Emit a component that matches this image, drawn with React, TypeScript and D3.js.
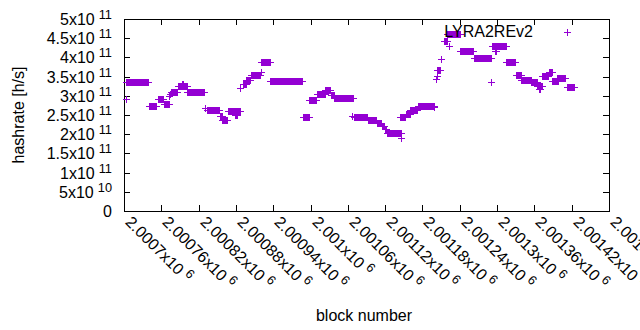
import React from "react";
import * as d3 from "d3";

// Runs of blocks with a constant hashrate value (start block, end block, value in h/s)
const runStart = [
  2000703, 2000704, 2000741, 2000755, 2000764, 2000773, 2000774, 2000776, 2000787, 2000793,
  2000802, 2000830, 2000833, 2000854, 2000858, 2000868, 2000879, 2000886, 2000891, 2000897,
  2000905, 2000921, 2000920, 2000935, 2000988, 2000998, 2001010, 2001024, 2001033, 2001038,
  2001066, 2001070, 2001092, 2001107, 2001115, 2001119, 2001123, 2001146, 2001144, 2001153,
  2001160, 2001173, 2001199, 2001202, 2001203, 2001204, 2001210, 2001214, 2001222, 2001220,
  2001241, 2001263, 2001291, 2001292, 2001297, 2001315, 2001330, 2001339, 2001355, 2001365,
  2001368, 2001373, 2001383, 2001389, 2001397, 2001412,
];
const runEnd = [
  2000703, 2000739, 2000751, 2000763, 2000772, 2000773, 2000774, 2000786, 2000801, 2000795,
  2000828, 2000830, 2000852, 2000857, 2000866, 2000886, 2000881, 2000887, 2000896, 2000902,
  2000918, 2000921, 2000934, 2000987, 2000997, 2001009, 2001023, 2001032, 2001037, 2001068,
  2001066, 2001091, 2001106, 2001114, 2001118, 2001122, 2001145, 2001146, 2001152, 2001160,
  2001172, 2001198, 2001199, 2001202, 2001203, 2001209, 2001210, 2001220, 2001222, 2001240,
  2001262, 2001291, 2001291, 2001314, 2001299, 2001329, 2001338, 2001354, 2001364, 2001372,
  2001369, 2001382, 2001388, 2001398, 2001409, 2001424,
];
const runValue = [
  2.91e11, 3.35e11, 2.74e11, 2.91e11, 2.78e11, 2.99e11, 3.04e11, 3.11e11, 3.25e11, 3.3e11,
  3.1e11, 2.67e11, 2.62e11, 2.48e11, 2.37e11, 2.6e11, 2.5e11, 3.2e11, 3.3e11, 3.4e11,
  3.55e11, 3.62e11, 3.88e11, 3.38e11, 2.46e11, 2.88e11, 3.05e11, 3.14e11, 3.01e11, 2.93e11,
  2.47e11, 2.44e11, 2.38e11, 2.3e11, 2.22e11, 2.14e11, 2.03e11, 1.89e11, 2.45e11, 2.53e11,
  2.63e11, 2.74e11, 2.72e11, 3.45e11, 3.52e11, 3.66e11, 3.97e11, 4.42e11, 4.3e11, 4.6e11,
  4.16e11, 3.98e11, 3.37e11, 4.29e11, 4.17e11, 3.87e11, 3.55e11, 3.42e11, 3.35e11, 3.25e11,
  3.18e11, 3.52e11, 3.62e11, 3.38e11, 3.46e11, 3.24e11,
];

const yTickValues = [0, 5e10, 1e11, 1.5e11, 2e11, 2.5e11, 3e11, 3.5e11, 4e11, 4.5e11, 5e11];
const yTickMantissa = ["0", "5", "1", "1.5", "2", "2.5", "3", "3.5", "4", "4.5", "5"];
const yTickExponent = ["", "10", "11", "11", "11", "11", "11", "11", "11", "11", "11"];

const xTickValues = [
  2000700, 2000760, 2000820, 2000880, 2000940, 2001000, 2001060, 2001120, 2001180, 2001240,
  2001300, 2001360, 2001420, 2001480,
];
const xTickMantissa = [
  "2.0007", "2.00076", "2.00082", "2.00088", "2.00094", "2.001", "2.00106", "2.00112",
  "2.00118", "2.00124", "2.0013", "2.00136", "2.00142", "2.00148",
];
const xTickExponent = "6";

const seriesName = "LYRA2REv2";
const COLOR = "#9400d3";
const FONT = "'Liberation Sans', Arial, sans-serif";

export default function App() {
  const W = 640;
  const H = 330;
  const left = 124;
  const right = 609;
  const top = 19;
  const bottom = 211;

  const x = d3.scaleLinear().domain([2000700, 2001480]).range([left, right]);
  const y = d3.scaleLinear().domain([0, 5e11]).range([bottom, top]);

  const points: { b: number; v: number }[] = [];
  runStart.forEach((s, i) => {
    for (let b = s; b <= runEnd[i]; b++) points.push({ b, v: runValue[i] });
  });

  const plus = "M-3.5,0H3.5M0,-3.5V3.5";
  const tick = 6;

  return (
    <svg
      width={W}
      height={H}
      style={{ position: "absolute", left: 0, top: 0, background: "#fff" }}
      fontFamily={FONT}
    >
      <rect x={0} y={0} width={W} height={H} fill="#fff" />
      {/* y ticks */}
      {yTickValues.map((v, i) => {
        const yy = Math.round(y(v)) + 0.5;
        return (
          <g key={"y" + i}>
            {i > 0 && i < yTickValues.length - 1 && (
              <>
                <line x1={left} x2={left + tick} y1={yy} y2={yy} stroke="#000" />
                <line x1={right - tick} x2={right} y1={yy} y2={yy} stroke="#000" />
              </>
            )}
            <text x={112} y={yy + 5.5} textAnchor="end" fontSize={16} fill="#000">
              {yTickMantissa[i]}
              {yTickExponent[i] ? "x10" : ""}
              {yTickExponent[i] && (
                <tspan dx={4} dy={-6} fontSize={12.8}>
                  {yTickExponent[i]}
                </tspan>
              )}
            </text>
          </g>
        );
      })}
      {/* x ticks */}
      {xTickValues.map((v, i) => {
        const xx = Math.round(x(v)) + 0.5;
        return (
          <g key={"x" + i}>
            {i > 0 && i < xTickValues.length - 1 && (
              <>
                <line x1={xx} x2={xx} y1={bottom} y2={bottom - tick} stroke="#000" />
                <line x1={xx} x2={xx} y1={top} y2={top + tick} stroke="#000" />
              </>
            )}
            <text
              transform={`translate(${xx},${bottom + 12}) rotate(45)`}
              fontSize={16}
              fill="#000"
            >
              {xTickMantissa[i] + "x10"}
              <tspan dx={4} dy={-6} fontSize={12.8}>
                {xTickExponent}
              </tspan>
            </text>
          </g>
        );
      })}
      {/* frame */}
      <rect
        x={left + 0.5}
        y={top + 0.5}
        width={right - left}
        height={bottom - top}
        fill="none"
        stroke="#000"
      />
      {/* data */}
      <g stroke={COLOR} strokeWidth={1} fill="none">
        {points.map((p, i) => (
          <path
            key={i}
            d={plus}
            transform={`translate(${Math.round(x(p.b)) + 0.5},${Math.round(y(p.v)) + 0.5})`}
          />
        ))}
      </g>
      {/* legend */}
      <text x={533} y={37} textAnchor="end" fontSize={16} fill="#000">
        {seriesName}
      </text>
      <path d={plus} transform="translate(567.5,32.5)" stroke={COLOR} fill="none" />
      {/* axis labels */}
      <text
        transform={`translate(24,${(top + bottom) / 2}) rotate(-90)`}
        textAnchor="middle"
        fontSize={16}
        fill="#000"
      >
        hashrate [h/s]
      </text>
      <text x={364} y={321} textAnchor="middle" fontSize={16} fill="#000">
        block number
      </text>
    </svg>
  );
}
